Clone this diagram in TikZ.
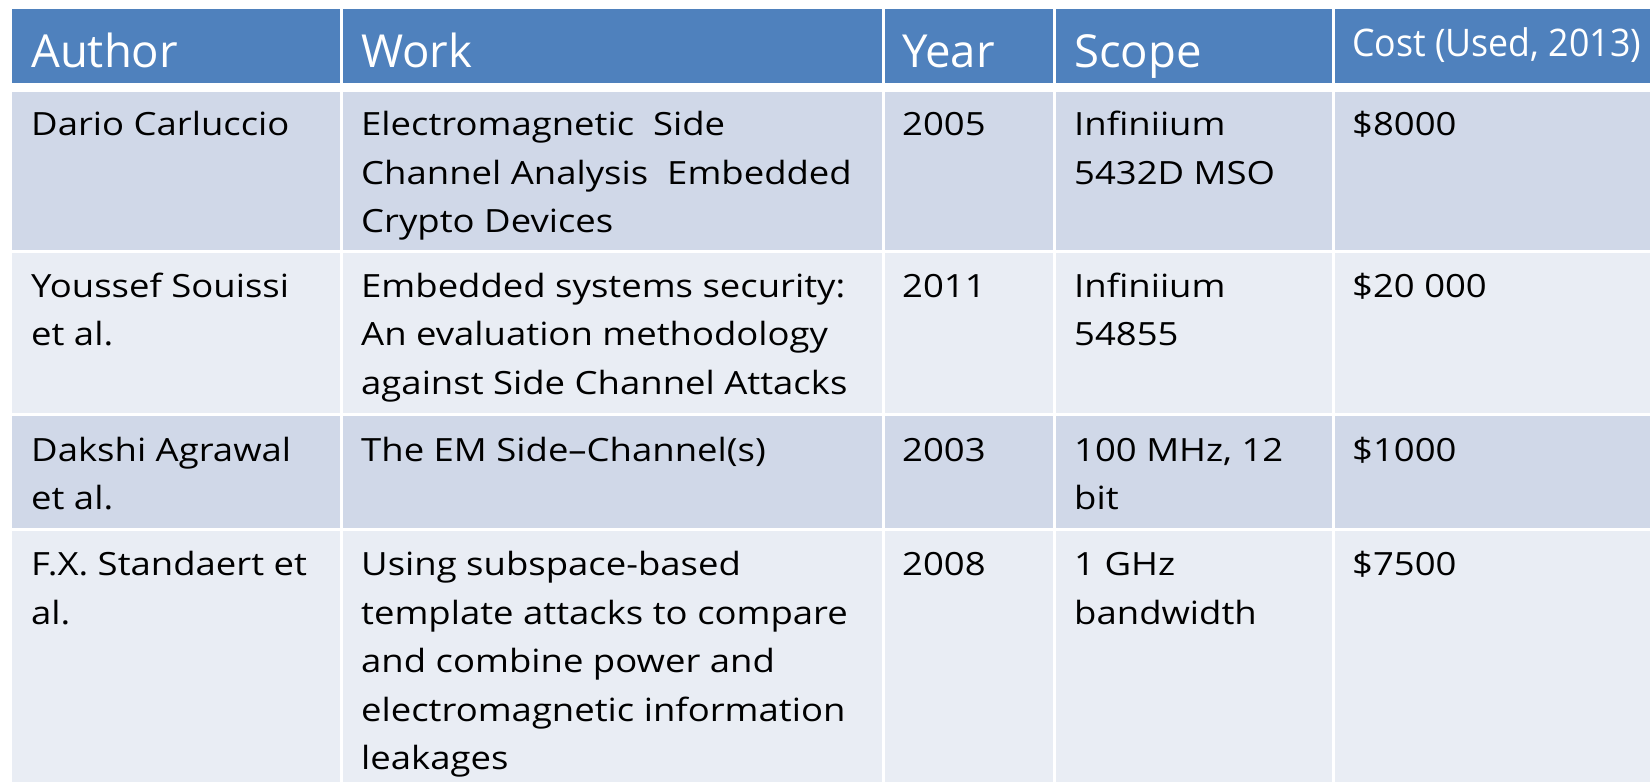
\documentclass[tikz,border=0pt]{standalone}
\usepackage{fontspec}
\setmainfont{Open Sans}
\newfontfamily\headfont{Open Sans}
\newfontfamily\costfont[FakeStretch=0.94]{Open Sans}
\newfontfamily\bodyfont[FakeStretch=1.14]{Open Sans}
\usetikzlibrary{positioning}
\definecolor{headblue}{HTML}{4F81BD}
\definecolor{rowdark}{HTML}{D0D8E8}
\definecolor{rowlight}{HTML}{E9EDF4}
% lines of one cell, first baseline on the node's base
\newcommand{\celllines}[1]{\begin{tabular}[t]{@{}l@{}}#1\end{tabular}}

\begin{document}
\begin{tikzpicture}[
		x=1pt, y=-1pt,
		headtext/.style={
			anchor=base west,
			inner sep=0pt,
			text=white,
			font=\headfont\fontsize{45.5}{55}\selectfont
		},
		bodytext/.style={
			anchor=base west,
			inner sep=0pt,
			font=\bodyfont\fontsize{32}{48.6}\selectfont
		}
		]
		
		\useasboundingbox[fill=white] (0,0) rectangle (1650,782);
		
		% ---- Cells ----
		\foreach \xa/\xb in {12/340, 343/881.5, 884.5/1053, 1056/1332, 1335/1650} {
			\fill[headblue] (\xa,9) rectangle (\xb,83);
			\fill[rowdark] (\xa,92) rectangle (\xb,249.5);
			\fill[rowlight] (\xa,252.5) rectangle (\xb,413);
			\fill[rowdark] (\xa,416) rectangle (\xb,527.5);
			\fill[rowlight] (\xa,530.5) rectangle (\xb,782);
		}
		
		% ---- Header ----
		\node[headtext] (author) at (31,67) {Author};
		\node[headtext] (work) at (361,67) {Work};
		\node[headtext] (year) at (902,67) {Year};
		\node[headtext] (scope) at (1074,67) {Scope};
		\node[headtext, font=\costfont\fontsize{38}{45}\selectfont] (cost) at (1352,56.5) {Cost (Used, 2013)};
		
		% ---- Row 1 ----
		\node[bodytext] (carluccio) at (31,135.5) {Dario Carluccio};
		\node[bodytext] (carlucciowork) at (361,135.5)
		{\celllines{Electromagnetic\ \ Side\\Channel Analysis\ \ Embedded\\Crypto Devices}};
		\node[bodytext] (carluccioyear) at (902,135.5) {2005};
		\node[bodytext] (carluccioscope) at (1074,135.5) {\celllines{Infiniium\\5432D MSO}};
		\node[bodytext] (carlucciocost) at (1352,135.5) {\$8000};
		
		% ---- Row 2 ----
		\node[bodytext] (souissi) at (31,297) {\celllines{Youssef Souissi\\et al.}};
		\node[bodytext] (souissiwork) at (361,297)
		{\celllines{Embedded systems security:\\An evaluation methodology\\against Side Channel Attacks}};
		\node[bodytext] (souissiyear) at (902,297) {2011};
		\node[bodytext] (souissiscope) at (1074,297) {\celllines{Infiniium\\54855}};
		\node[bodytext] (souissicost) at (1352,297) {\$20 000};
		
		% ---- Row 3 ----
		\node[bodytext] (agrawal) at (31,461) {\celllines{Dakshi Agrawal\\et al.}};
		\node[bodytext] (agrawalwork) at (361,461) {The EM Side–Channel(s)};
		\node[bodytext] (agrawalyear) at (902,461) {2003};
		\node[bodytext] (agrawalscope) at (1074,461) {\celllines{100 MHz, 12\\bit}};
		\node[bodytext] (agrawalcost) at (1352,461) {\$1000};
		
		% ---- Row 4 ----
		\node[bodytext] (standaert) at (31,575.5) {\celllines{F.X. Standaert et\\al.}};
		\node[bodytext] (standaertwork) at (361,575.5)
		{\celllines{Using subspace-based\\template attacks to compare\\and combine power and\\electromagnetic information\\leakages}};
		\node[bodytext] (standaertyear) at (902,575.5) {2008};
		\node[bodytext] (standaertscope) at (1074,575.5) {\celllines{1 GHz\\bandwidth}};
		\node[bodytext] (standaertcost) at (1352,575.5) {\$7500};
		
	\end{tikzpicture}
\end{document}
